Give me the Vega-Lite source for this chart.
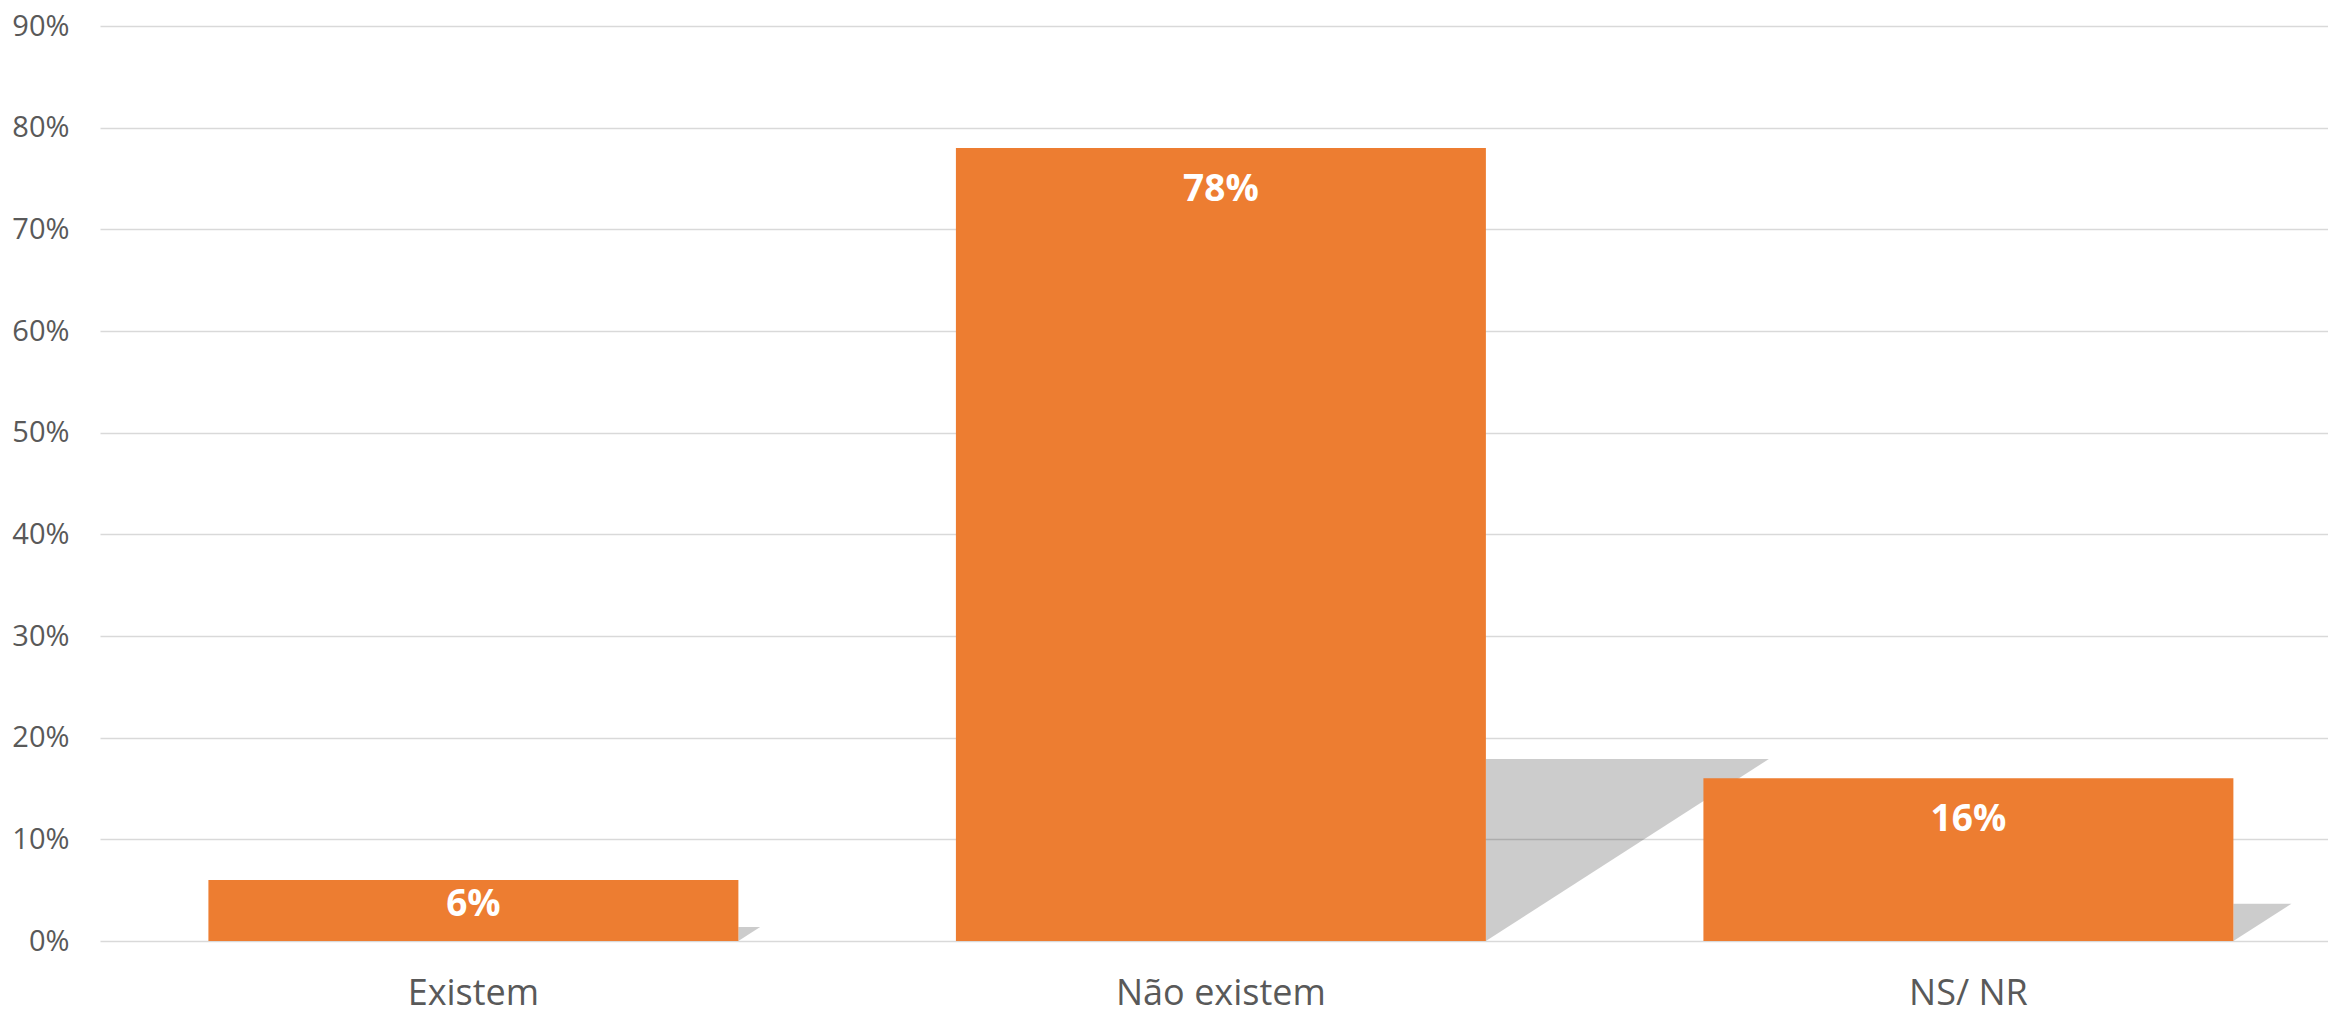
{
  "$schema": "https://vega.github.io/schema/vega-lite/v6.json",
  "width": 2228,
  "height": 915,
  "autosize": "none",
  "padding": {"left": 100, "top": 26, "right": 0, "bottom": 73},
  "background": "white",
  "config": {"view": {"stroke": null}, "font": "Open Sans"},
  "data": {
    "values": [
      {"categoria": "Existem", "valor": 0.06},
      {"categoria": "Não existem", "valor": 0.78},
      {"categoria": "NS/ NR", "valor": 0.16}
    ]
  },
  "encoding": {
    "x": {
      "field": "categoria",
      "type": "nominal",
      "sort": null,
      "scale": {"paddingInner": 0.291, "paddingOuter": 0.1358, "align": 0.534},
      "axis": {
        "title": null,
        "labelAngle": 0,
        "labelFontSize": 36,
        "labelColor": "#595959",
        "labelFont": "Open Sans",
        "labelLimit": 0,
        "ticks": false,
        "domain": false,
        "grid": false,
        "labelPadding": 35
      }
    },
    "y": {
      "field": "valor",
      "type": "quantitative",
      "scale": {"domain": [0, 0.9]},
      "axis": {
        "title": null,
        "values": [0, 0.1, 0.2, 0.3, 0.4, 0.5, 0.6, 0.7, 0.8, 0.9],
        "format": ".0%",
        "labelFontSize": 29,
        "labelColor": "#595959",
        "labelFont": "Open Sans",
        "labelPadding": 31,
        "ticks": false,
        "domain": false,
        "grid": true,
        "gridColor": "#d9d9d9",
        "gridWidth": 1.5
      }
    }
  },
  "layer": [
    {
      "mark": {
        "type": "point",
        "shape": "M0,0 L0,-2 L3.11,-2 Z",
        "filled": true,
        "fill": "#000000",
        "opacity": 0.2,
        "strokeWidth": 0
      },
      "encoding": {
        "x": {
          "field": "categoria",
          "type": "nominal",
          "sort": null,
          "bandPosition": 1,
          "scale": {"paddingInner": 0.291, "paddingOuter": 0.1358, "align": 0.534},
          "axis": {
            "title": null,
            "labelAngle": 0,
            "labelFontSize": 36,
            "labelColor": "#595959",
            "labelFont": "Open Sans",
            "labelLimit": 0,
            "ticks": false,
            "domain": false,
            "grid": false,
            "labelPadding": 35
          }
        },
        "y": {
          "datum": 0,
          "type": "quantitative",
          "scale": {"domain": [0, 0.9]},
          "axis": {
            "title": null,
            "values": [0, 0.1, 0.2, 0.3, 0.4, 0.5, 0.6, 0.7, 0.8, 0.9],
            "format": ".0%",
            "labelFontSize": 29,
            "labelColor": "#595959",
            "labelFont": "Open Sans",
            "labelPadding": 31,
            "ticks": false,
            "domain": false,
            "grid": true,
            "gridColor": "#d9d9d9",
            "gridWidth": 1.5
          }
        },
        "size": {
          "field": "valor",
          "type": "quantitative",
          "scale": {"type": "pow", "exponent": 2, "domain": [0, 0.78], "range": [0, 33124]},
          "legend": null
        }
      }
    },
    {
      "mark": {"type": "bar", "color": "#ED7D31"}
    },
    {
      "transform": [{"filter": "datum.valor >= 0.1"}],
      "mark": {
        "type": "text",
        "color": "white",
        "fontSize": 37,
        "fontWeight": "bold",
        "font": "Open Sans",
        "baseline": "alphabetic",
        "dy": 53
      },
      "encoding": {
        "text": {"field": "valor", "type": "quantitative", "format": ".0%"}
      }
    },
    {
      "transform": [{"filter": "datum.valor < 0.1"}],
      "mark": {
        "type": "text",
        "color": "white",
        "fontSize": 37,
        "fontWeight": "bold",
        "font": "Open Sans",
        "baseline": "alphabetic",
        "dy": 36
      },
      "encoding": {
        "text": {"field": "valor", "type": "quantitative", "format": ".0%"}
      }
    }
  ]
}
